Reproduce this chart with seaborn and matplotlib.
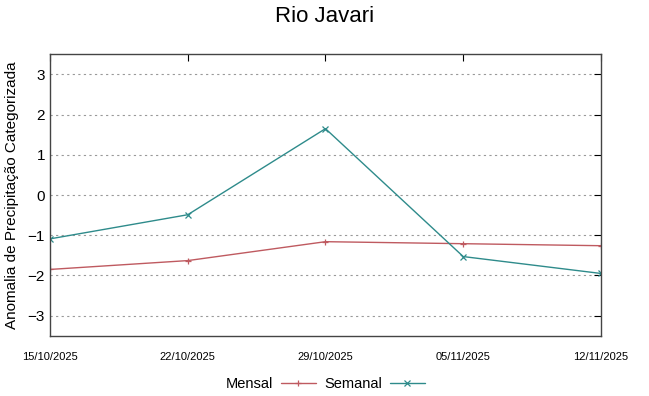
import pandas as pd
import matplotlib
matplotlib.use("Agg")
import matplotlib.pyplot as plt
import matplotlib.dates as mdates
import seaborn as sns

datas = ["2025-10-15", "2025-10-22", "2025-10-29", "2025-11-05", "2025-11-12"]
mensal = [-1.85, -1.63, -1.16, -1.21, -1.26]
semanal = [-1.09, -0.49, 1.65, -1.53, -1.95]

sns.set_style("white")
plt.rcParams["font.family"] = ["Liberation Sans", "DejaVu Sans"]
plt.rcParams["text.color"] = "black"
plt.rcParams["axes.labelcolor"] = "black"
plt.rcParams["xtick.color"] = "black"
plt.rcParams["ytick.color"] = "black"

df = pd.DataFrame({"Data": pd.to_datetime(datas), "Mensal": mensal, "Semanal": semanal})
df_long = df.melt(id_vars="Data", var_name="Serie", value_name="Valor")

cores = {"Mensal": "#bf5a60", "Semanal": "#2e8b8b"}

fig, ax = plt.subplots(figsize=(6.49, 3.96), dpi=100)
fig.subplots_adjust(left=0.077, right=0.926, top=0.863, bottom=0.152)

sns.lineplot(data=df_long, x="Data", y="Valor", hue="Serie", style="Serie",
             markers={"Mensal": "+", "Semanal": "x"}, dashes=False,
             palette=cores, linewidth=1.0, markersize=5, ax=ax)

# markers "+" e "x" precisam da cor da linha na borda
for ln in ax.get_lines():
    ln.set_markeredgecolor(ln.get_color())
    ln.set_markeredgewidth(0.9)

ax.set_xlim(df["Data"].min(), df["Data"].max())
ax.set_ylim(-3.5, 3.5)
ax.set_yticks([-3, -2, -1, 0, 1, 2, 3])
ax.set_xticks(df["Data"])
ax.xaxis.set_major_formatter(mdates.DateFormatter("%d/%m/%Y"))
ax.tick_params(axis="x", labelsize=8, direction="in", top=True, pad=12, length=5)
ax.tick_params(axis="y", labelsize=11, direction="in", right=True, length=5)
ax.yaxis.grid(True, linestyle=(0, (2, 3)), color="#999999", linewidth=0.8)
for s in ax.spines.values():
    s.set_color("#444444")
    s.set_linewidth(1.0)

ax.set_xlabel("")
ax.set_ylabel("Anomalia de Precipitação Categorizada", fontsize=11, labelpad=6)
fig.suptitle("Rio Javari", fontsize=16, y=0.985)

h, l = ax.get_legend_handles_labels()
for hh in h:
    hh.set_markeredgecolor(hh.get_color())
    hh.set_markeredgewidth(0.9)
ax.legend(h, l, loc="upper center", bbox_to_anchor=(0.5, -0.1), ncol=2,
          frameon=False, markerfirst=False, fontsize=10.5, handlelength=2.4,
          columnspacing=0.6, handletextpad=0.5)

fig.savefig("out.png", dpi=100)
